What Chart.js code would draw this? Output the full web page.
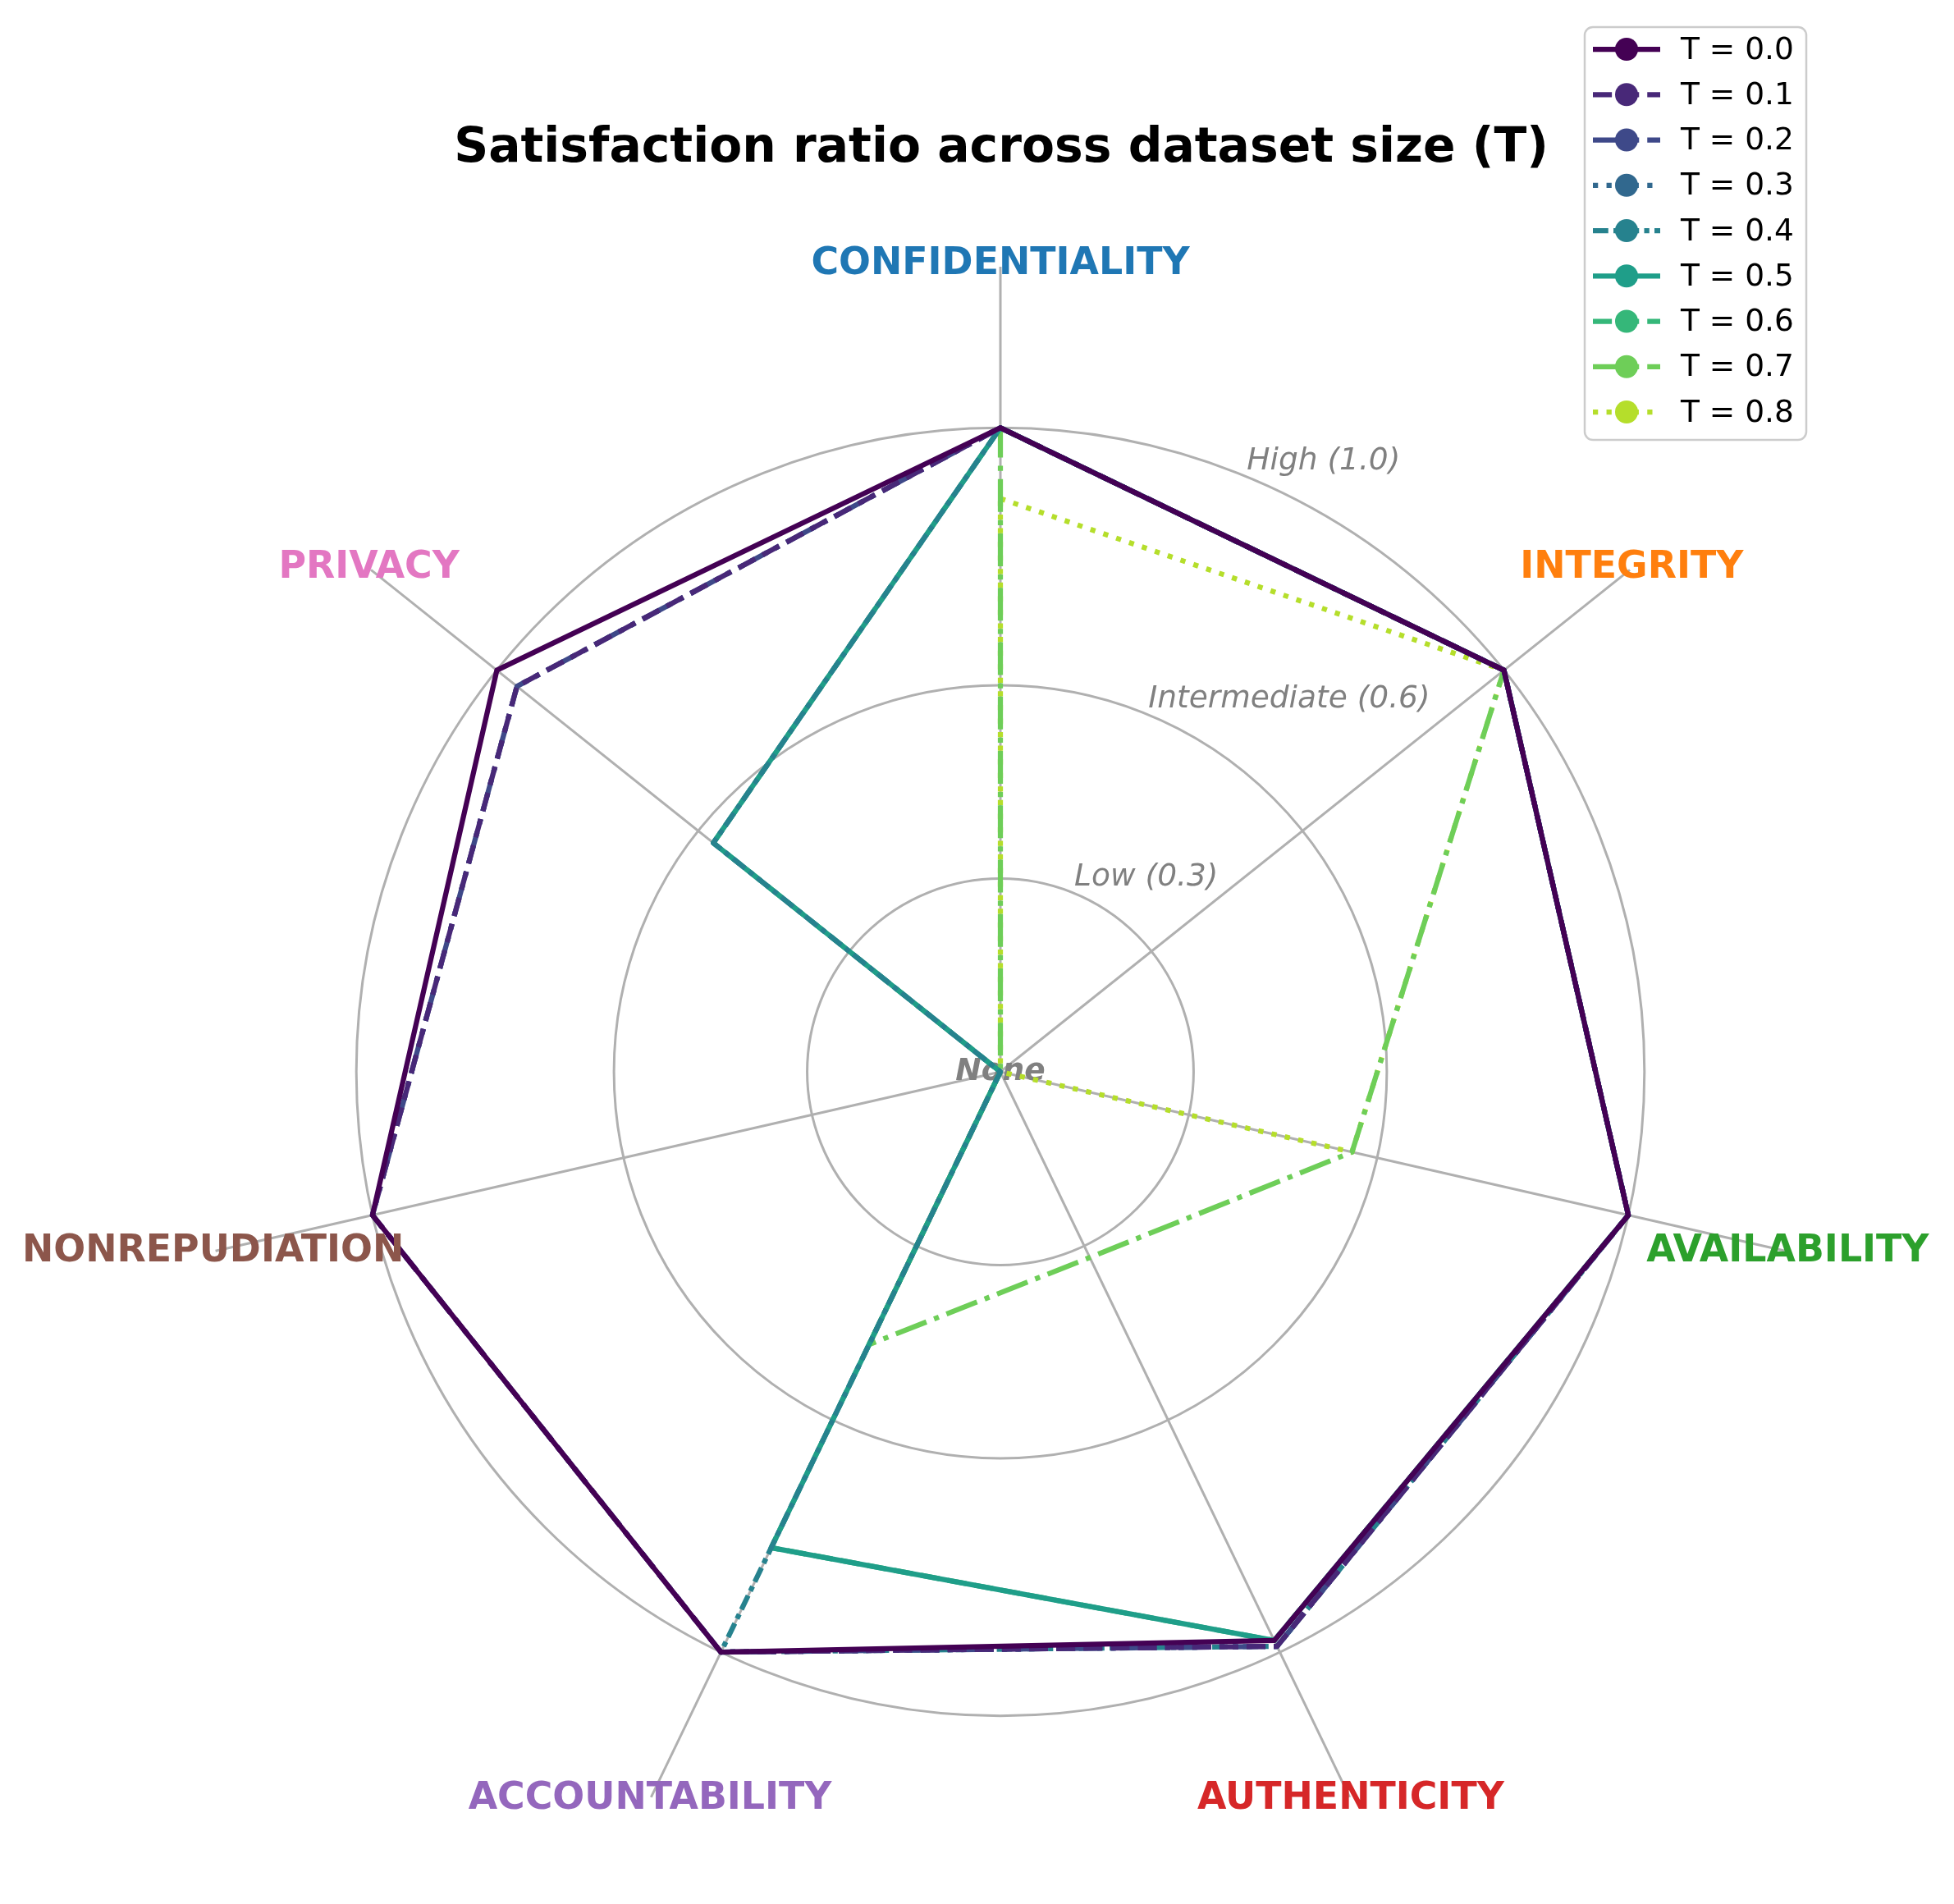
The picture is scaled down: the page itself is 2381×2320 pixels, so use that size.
<!DOCTYPE html>
<html>
<head>
<meta charset="utf-8">
<script src="https://cdn.jsdelivr.net/npm/chart.js@4.4.1/dist/chart.umd.min.js"></script>
<style>
  html, body { margin: 0; padding: 0; background: #ffffff; }
  canvas { display: block; }
</style>
</head>
<body>
<canvas id="chart-radar" width="2381" height="2320"></canvas>
<script>
const categories = ['CONFIDENTIALITY', 'INTEGRITY', 'AVAILABILITY', 'AUTHENTICITY', 'ACCOUNTABILITY', 'NONREPUDIATION', 'PRIVACY'];
const categoryColors = ['#1f77b4', '#ff7f0e', '#2ca02c', '#d62728', '#9467bd', '#8c564b', '#e377c2'];

const tLabels = ['T = 0.0', 'T = 0.1', 'T = 0.2', 'T = 0.3', 'T = 0.4', 'T = 0.5', 'T = 0.6', 'T = 0.7', 'T = 0.8'];

// values, same order as categories
const t00 = [1.00, 1.00, 1.00, 0.98, 1.00, 1.00, 1.00];
const t01 = [1.00, 1.00, 1.00, 0.99, 1.00, 1.00, 0.96];
const t02 = [1.00, 1.00, 1.00, 0.99, 1.00, 1.00, 0.96];
const t03 = [1.00, 1.00, 1.00, 0.99, 1.00, 1.00, 0.96];
const t04 = [1.00, 1.00, 1.00, 0.99, 1.00, 0.00, 0.57];
const t05 = [1.00, 1.00, 1.00, 0.98, 0.82, 0.00, 0.57];
const t06 = [1.00, 1.00, 1.00, 0.98, 0.82, 0.00, 0.57];
const t07 = [1.00, 1.00, 0.56, 0.32, 0.47, 0.00, 0.00];
const t08 = [0.89, 1.00, 0.56, 0.00, 0.47, 0.00, 0.00];

const tickValues = [0, 0.3, 0.6, 1.0];
const tickNames = ['None', 'Low (0.3)', 'Intermediate (0.6)', 'High (1.0)'];

const seriesList = [t00, t01, t02, t03, t04, t05, t06, t07, t08];
const lineColors = ['#440154', '#482878', '#3e4989', '#31688e', '#26828e', '#1f9e89', '#35b779', '#6ece58', '#b5de2b'];
const LW = 6.25;
const dashStyles = [
  [],
  [3.7 * LW, 1.6 * LW],
  [6.4 * LW, 1.6 * LW, 1 * LW, 1.6 * LW],
  [1 * LW, 1.65 * LW],
  [3 * LW, 1 * LW, 1 * LW, 1 * LW]
];

const datasets = seriesList.map((data, i) => ({
  label: tLabels[i],
  data: data,
  borderColor: lineColors[i],
  backgroundColor: lineColors[i],
  borderWidth: LW,
  borderDash: dashStyles[i % 5],
  borderCapStyle: 'butt',
  borderJoinStyle: 'round',
  fill: false,
  pointRadius: 0,
  pointHoverRadius: 0,
  tension: 0
}));

// rlabels under the lines
const tickLabelPlugin = {
  id: 'tickLabels',
  beforeDatasetsDraw(chart) {
    const ctx = chart.ctx;
    const r = chart.scales.r;
    const cx = r.xCenter, cy = r.yCenter;
    const ang = 22.5 * Math.PI / 180;
    ctx.save();
    ctx.fillStyle = '#808080';
    tickValues.forEach((v, i) => {
      if (i == 0) {
        ctx.font = 'italic bold 37.5px "DejaVu Sans"';
        ctx.textAlign = 'center';
        ctx.textBaseline = 'middle';
        ctx.fillText(tickNames[i], cx, cy);
      } else {
        const d = r.getDistanceFromCenterForValue(v);
        ctx.font = 'italic 37.5px "DejaVu Sans"';
        ctx.textAlign = 'left';
        ctx.textBaseline = 'bottom';
        ctx.fillText(tickNames[i], cx + Math.sin(ang) * d, cy - Math.cos(ang) * d);
      }
    });
    ctx.restore();
  }
};

// category labels, title and legend
const extrasPlugin = {
  id: 'extras',
  afterDraw(chart) {
    const ctx = chart.ctx;
    const r = chart.scales.r;
    const cx = r.xCenter, cy = r.yCenter;
    ctx.save();

    ctx.font = 'bold 45.8px "DejaVu Sans"';
    ctx.textAlign = 'center';
    ctx.textBaseline = 'middle';
    const dist = r.getDistanceFromCenterForValue(r.max) + 3;
    categories.forEach((lab, i) => {
      const a = r.getIndexAngle(i) - Math.PI / 2;
      ctx.fillStyle = categoryColors[i];
      ctx.fillText(lab, cx + Math.cos(a) * dist, cy + Math.sin(a) * dist);
    });

    ctx.fillStyle = '#000000';
    ctx.font = 'bold 58.3px "DejaVu Sans"';
    ctx.fillText('Satisfaction ratio across dataset size (T)', 1220, 182);

    // legend box
    const bx = 1931, by = 33, bw = 270, bh = 503, rad = 10;
    ctx.beginPath();
    ctx.moveTo(bx + rad, by);
    ctx.arcTo(bx + bw, by, bx + bw, by + bh, rad);
    ctx.arcTo(bx + bw, by + bh, bx, by + bh, rad);
    ctx.arcTo(bx, by + bh, bx, by, rad);
    ctx.arcTo(bx, by, bx + bw, by, rad);
    ctx.closePath();
    ctx.fillStyle = 'rgba(255,255,255,0.8)';
    ctx.fill();
    ctx.lineWidth = 2.5;
    ctx.strokeStyle = '#cccccc';
    ctx.stroke();

    ctx.font = '37.5px "DejaVu Sans"';
    ctx.textAlign = 'left';
    datasets.forEach((ds, i) => {
      const y = 60 + i * 55.25;
      ctx.beginPath();
      ctx.setLineDash(ds.borderDash);
      ctx.lineWidth = LW;
      ctx.lineCap = 'butt';
      ctx.strokeStyle = ds.borderColor;
      ctx.moveTo(1941, y);
      ctx.lineTo(2023, y);
      ctx.stroke();
      ctx.setLineDash([]);
      ctx.beginPath();
      ctx.arc(1982, y, 14, 0, Math.PI * 2);
      ctx.fillStyle = ds.borderColor;
      ctx.fill();
      ctx.fillStyle = '#000000';
      ctx.fillText(ds.label, 2048, y + 2);
    });
    ctx.restore();
  }
};

const chartRadar = document.getElementById('chart-radar');

new Chart(chartRadar, {
  type: 'radar',
  data: {
    labels: categories,
    datasets: datasets
  },
  options: {
    responsive: false,
    devicePixelRatio: 1,
    animation: false,
    layout: {
      padding: { left: 238, right: 181, top: 325, bottom: 33 }
    },
    plugins: {
      legend: { display: false },
      title: { display: false },
      tooltip: { enabled: false }
    },
    scales: {
      r: {
        min: 0,
        max: 1.25,
        startAngle: 0,
        afterBuildTicks: (scale) => {
          scale.ticks = tickValues.map(v => ({ value: v }));
        },
        ticks: { display: false },
        pointLabels: { display: false },
        grid: {
          circular: true,
          color: '#b0b0b0',
          lineWidth: 3
        },
        angleLines: {
          color: '#b0b0b0',
          lineWidth: 3
        }
      }
    }
  },
  plugins: [tickLabelPlugin, extrasPlugin]
});
</script>
</body>
</html>
